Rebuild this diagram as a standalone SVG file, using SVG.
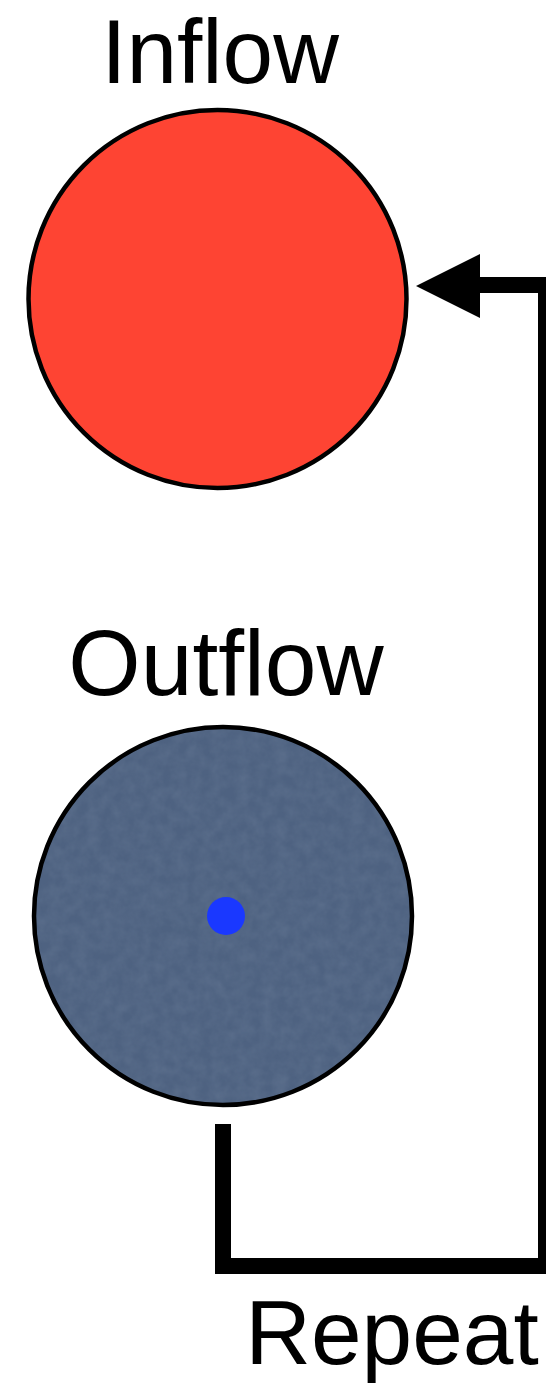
<svg xmlns="http://www.w3.org/2000/svg" width="546" height="1383" viewBox="0 0 546 1383">
  <style>
    .label { font-family: "Liberation Sans", Arial, sans-serif; fill: #000; text-anchor: middle; }
    .node { stroke: #000; stroke-width: 4.5; }
    .conn { fill: none; stroke: #000; stroke-width: 16; stroke-linejoin: miter; stroke-linecap: butt; }
  </style>
  <defs>
    <filter id="grain" x="0" y="0" width="100%" height="100%">
      <feTurbulence type="fractalNoise" baseFrequency="0.08" numOctaves="3" seed="4" result="n"/>
      <feColorMatrix in="n" type="matrix" values="0 0 0 0 0.3  0 0 0 0 0.38  0 0 0 0 0.5  0 0 0 0.5 -0.12"/>
    </filter>
    <clipPath id="outClip"><circle cx="223" cy="916" r="187"/></clipPath>
  </defs>
  <rect width="546" height="1383" fill="#fff"/>
  <g id="inflow">
    <circle class="node" cx="217.5" cy="299" r="189" fill="#FE4433"/>
    <text class="label" x="220" y="83" font-size="91">Inflow</text>
  </g>
  <g id="outflow">
    <circle cx="223" cy="916" r="189" fill="#4E6281"/>
    <rect x="34" y="727" width="378" height="378" filter="url(#grain)" clip-path="url(#outClip)" opacity="0.5"/>
    <circle class="node" cx="223" cy="916" r="189" fill="none"/>
    <circle cx="226" cy="916" r="19" fill="#1A38FF"/>
    <text class="label" x="226" y="695" font-size="93">Outflow</text>
  </g>
  <g id="connectors">
    <path class="conn" d="M223,1124 V1266 H546 V285 H478"/>
    <polygon points="416,286 480,254 480,318" fill="#000"/>
    <text class="label" x="392" y="1364" font-size="91">Repeat</text>
  </g>
</svg>
